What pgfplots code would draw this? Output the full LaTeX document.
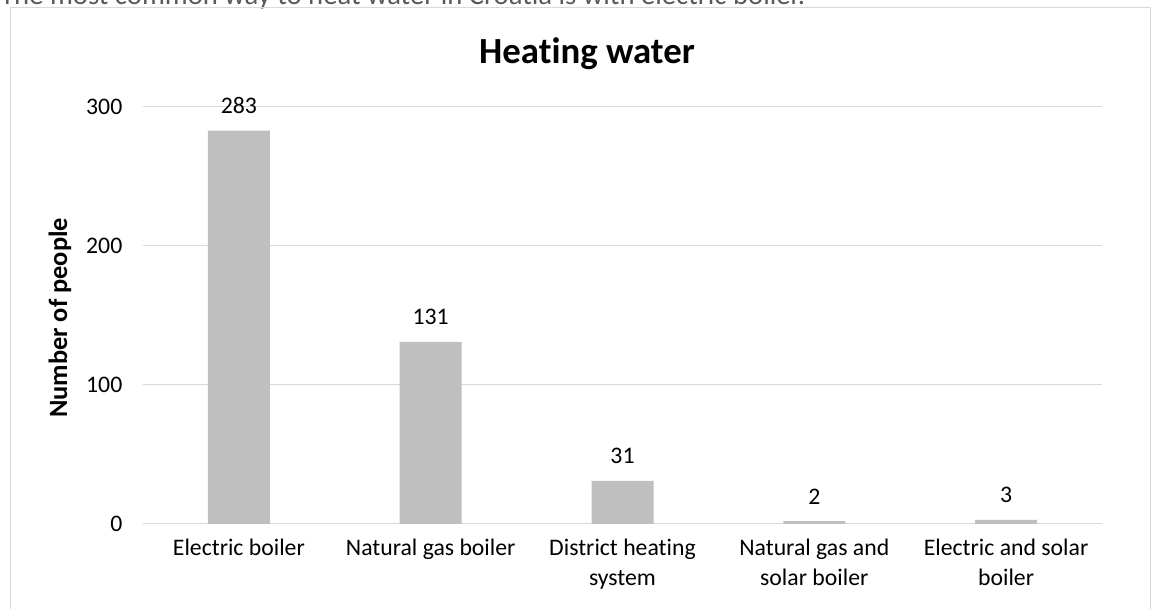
\documentclass[border=0pt]{standalone}
\usepackage{pgfplots}
\pgfplotsset{compat=1.18}
\usepackage{fontspec}
\setmainfont{Carlito}[Ligatures=NoCommon]
\definecolor{gridc}{HTML}{D9D9D9}
\definecolor{barc}{HTML}{BFBFBF}
\definecolor{toptext}{HTML}{595959}
\begin{document}
\begin{tikzpicture}
\useasboundingbox (0,0) rectangle (864pt,456.75pt);
\begin{scope}
\clip (0,0) rectangle (864pt,456.75pt);
\node[anchor=base west, inner sep=0pt, text=toptext, font=\fontsize{21.5}{26}\selectfont] at (0pt,453pt) {The most common way to heat water in Croatia is with electric boiler.};
\draw[gridc, line width=0.75pt] (7.5pt,-20pt) rectangle (862.5pt,450.75pt);
\end{scope}
\node[anchor=base, inner sep=0pt, font=\fontsize{27.6}{33}\selectfont\bfseries] at (440.25pt,408.75pt) {Heating water};
\begin{axis}[
  at={(107.25pt,63.75pt)}, anchor=south west,
  scale only axis, width=719.25pt, height=312.75pt,
  xmin=-0.5, xmax=4.5, ymin=0, ymax=300,
  axis x line*=bottom, axis y line*=left,
  x axis line style={gridc, line width=0.75pt, -},
  y axis line style={draw=none},
  ytick={0,100,200,300},
  ymajorgrids, grid style={gridc, line width=0.75pt},
  major tick length=0pt,
  xtick={0,1,2,3,4},
  xticklabels={Electric boiler, Natural gas boiler, {District heating\\system}, {Natural gas and\\solar boiler}, {Electric and solar\\boiler}},
  xticklabel style={align=center, font=\fontsize{17.8}{22.5}\selectfont, text=black, yshift=-8pt},
  yticklabel style={font=\fontsize{17.8}{21}\selectfont, text=black, xshift=-12pt},
  /pgf/number format/assume math mode=true,
  ybar, bar width=46.5pt,
  nodes near coords,
  every node near coord/.append style={font=\fontsize{17.8}{21}\selectfont, anchor=base, yshift=12.75pt, text=black},
  clip=false,
]
\addplot[fill=barc, draw=none] coordinates {(0,283) (1,131) (2,31) (3,2) (4,3)};
\end{axis}
\node[rotate=90, font=\fontsize{19.8}{24}\selectfont\bfseries, inner sep=0pt] at (45pt,218.25pt) {Number of people};
\end{tikzpicture}
\end{document}
